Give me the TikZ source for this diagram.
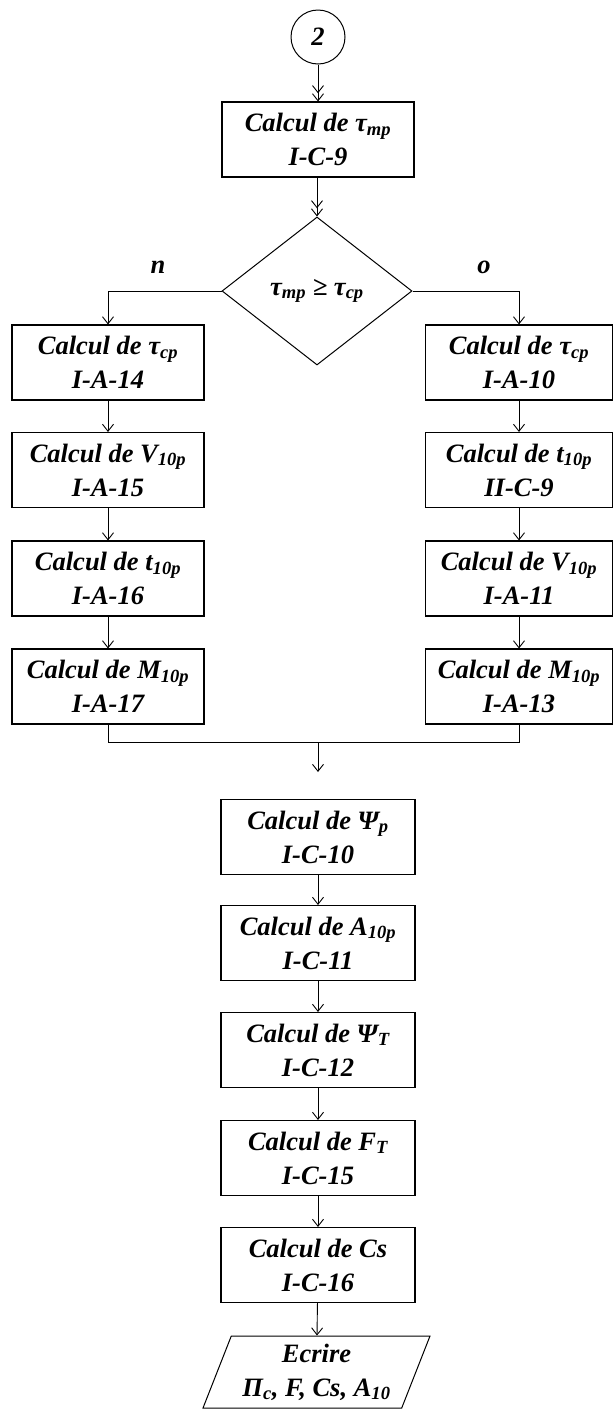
\documentclass[tikz,border=0pt]{standalone}
\usepackage{fontspec}
\setmainfont{Liberation Serif}
\usetikzlibrary{arrows.meta,shapes.geometric}
\newcommand\lowtext[1]{\textsubscript{#1}}
\begin{document}
\begin{tikzpicture}[x=1pt,y=-1pt,
  font=\fontsize{26.5}{34}\selectfont\bfseries\itshape,
  box/.style={draw,line width=1.1pt,minimum width=192,minimum height=75,align=center,inner sep=0pt},
  rbox/.style={box,minimum width=187},
  dia/.style={draw,diamond,shape aspect=1.28,minimum width=190,minimum height=148,inner sep=0pt,line width=1pt},
  io/.style={draw,trapezium,trapezium left angle=63.4,trapezium right angle=116.6,trapezium stretches body,
             minimum width=227,minimum height=72,inner sep=0pt,align=center,line width=1pt},
  lnk/.style={line width=0.9pt},
  tip/.style={lnk,-{Straight Barb[length=7pt,width=11pt,line width=0.9pt]}},
  tiptwo/.style={lnk,-{Straight Barb[length=7pt,width=11pt,line width=0.9pt]Straight Barb[length=7pt,width=11pt,line width=0.9pt]}},
  lbl/.style={inner sep=0pt}
]
\useasboundingbox (0,0) rectangle (614,1409);

% start connector
\node[draw,circle,minimum size=54,inner sep=0pt,line width=1pt] (c2) at (318,37) {2};
\node[box] (b0) at (318,139.5) {Calcul de τ\lowtext{mp}\\I-C-9};
\node[dia] (d) at (317,291) {τ\lowtext{mp} ≥ τ\lowtext{cp}};

% left branch
\node[box] (l1) at (108,362.5) {Calcul de τ\lowtext{cp}\\I-A-14};
\node[box] (l2) at (108,470) {Calcul de V\lowtext{10p}\\I-A-15};
\node[box] (l3) at (108,578.5) {Calcul de t\lowtext{10p}\\I-A-16};
\node[box] (l4) at (108,686.5) {Calcul de M\lowtext{10p}\\I-A-17};

% right branch
\node[rbox] (r1) at (519,362.5) {Calcul de τ\lowtext{cp}\\I-A-10};
\node[rbox] (r2) at (519,470) {Calcul de t\lowtext{10p}\\II-C-9};
\node[rbox] (r3) at (519,578.5) {Calcul de V\lowtext{10p}\\I-A-11};
\node[rbox] (r4) at (519,686.5) {Calcul de M\lowtext{10p}\\I-A-13};

% common part
\node[box,minimum width=194] (m1) at (318,837) {Calcul de  Ψ\lowtext{p}\\I-C-10};
\node[box,minimum width=194] (m2) at (318,943) {Calcul de A\lowtext{10p}\\I-C-11};
\node[box,minimum width=194] (m3) at (318,1050) {Calcul de  Ψ\lowtext{T}\\I-C-12};
\node[box,minimum width=194] (m4) at (318,1158) {Calcul de F\lowtext{T}\\I-C-15};
\node[box,minimum width=194] (m5) at (318,1265) {Calcul de Cs\\I-C-16};
\node[io] (out) at (316.5,1372) {Ecrire\\Π\lowtext{c}, F, Cs, A\lowtext{10}};

\node[lbl] (ln) at (158,267) {n};
\node[lbl] (lo) at (484,267) {o};

\coordinate (jl) at (108,742);
\coordinate (jr) at (519,742);
\coordinate (jm) at (318,742);
\coordinate (je) at (318,772);

% connectors
\draw[tiptwo] (c2) -- (b0);
\draw[tiptwo] (b0.south -| d.north) -- (d.north);
\draw[tip] (d.west) -| (l1.north);
\draw[tip] (d.east) -| (r1.north);
\draw[tip] (l1) -- (l2);
\draw[tip] (l2) -- (l3);
\draw[tip] (l3) -- (l4);
\draw[tip] (r1) -- (r2);
\draw[tip] (r2) -- (r3);
\draw[tip] (r3) -- (r4);
\draw[lnk] (l4.south) -- (jl) -- (jr) -- (r4.south);
\draw[tip] (jm) -- (je);
\draw[tip] (m1) -- (m2);
\draw[tip] (m2) -- (m3);
\draw[tip] (m3) -- (m4);
\draw[tip] (m4) -- (m5);
\draw[tip] (m5) -- (out);
\end{tikzpicture}
\end{document}
